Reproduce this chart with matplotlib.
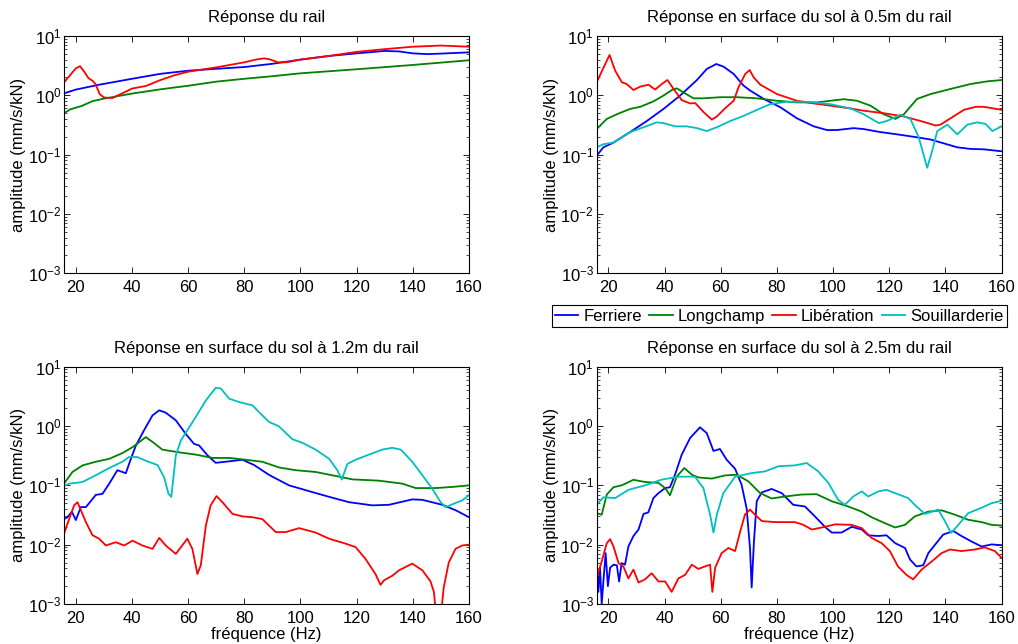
import numpy as np
import matplotlib
matplotlib.use("Agg")
import matplotlib.pyplot as plt
from matplotlib.ticker import LogLocator, NullFormatter

plt.rcParams['font.family'] = ['Liberation Sans', 'DejaVu Sans']
plt.rcParams['font.size'] = 12
plt.rcParams['mathtext.default'] = 'regular'

# ---- Réponse du rail ----
rail_fer_f = [15.8, 20, 28, 40, 50, 60, 70, 80, 90, 100, 110, 120, 130, 135, 140, 145, 150, 160]
rail_fer_a = [1.08, 1.25, 1.5, 1.9, 2.3, 2.6, 2.8, 3.0, 3.4, 4.0, 4.6, 5.1, 5.6, 5.5, 5.1, 4.95, 5.05, 5.3]
rail_lon_f = [15.8, 18, 22, 26, 30, 40, 50, 60, 70, 80, 90, 100, 120, 140, 160]
rail_lon_a = [0.5, 0.58, 0.66, 0.8, 0.88, 1.07, 1.26, 1.45, 1.7, 1.9, 2.1, 2.35, 2.75, 3.25, 3.9]
rail_lib_f = [15.8, 18, 20, 21.5, 23, 24.5, 26, 27, 28.5, 30, 33, 36, 40, 45, 50, 55, 60, 70, 80,
              84, 87, 89, 92, 95, 100, 110, 120, 130, 140, 150, 160]
rail_lib_a = [1.65, 2.2, 2.85, 3.1, 2.5, 1.95, 1.75, 1.55, 1.05, 0.92, 0.9, 1.05, 1.3, 1.44, 1.8, 2.17,
              2.5, 2.96, 3.6, 4.0, 4.2, 4.05, 3.6, 3.6, 4.0, 4.6, 5.4, 6.0, 6.6, 6.9, 6.6]

# ---- sol à 0.5m ----
p05_fer_f = [15.8, 18.2, 21.8, 27.7, 33.7, 39.6, 45.5, 51.5, 55, 58.4, 61, 64.6, 68.1, 70.5, 75.3, 81.2,
             87.1, 93.1, 97.8, 101.4, 107.3, 110.9, 116.9, 122.8, 128.7, 134.7, 139.4, 144.2, 148.9, 153.7, 160]
p05_fer_a = [0.096, 0.133, 0.16, 0.24, 0.37, 0.59, 0.99, 1.81, 2.78, 3.37, 3.04, 2.29, 1.46, 1.2, 0.87, 0.63,
             0.41, 0.30, 0.26, 0.26, 0.28, 0.27, 0.24, 0.22, 0.20, 0.18, 0.155, 0.133, 0.125, 0.123, 0.114]
p05_lon_f = [15.8, 19.4, 23, 27.7, 31.3, 36, 39.6, 42.6, 44.4, 46.7, 50.3, 53.9, 59.8, 65.8, 72.9, 80,
             87.1, 94.3, 99, 103.8, 108.5, 113.3, 118, 122.2, 125.2, 129.9, 134.7, 141.8, 148.9, 154.9, 160]
p05_lon_a = [0.27, 0.40, 0.48, 0.59, 0.64, 0.79, 0.99, 1.23, 1.31, 1.12, 0.89, 0.89, 0.93, 0.93, 0.89, 0.81,
             0.76, 0.76, 0.81, 0.86, 0.81, 0.67, 0.48, 0.40, 0.48, 0.87, 1.05, 1.28, 1.55, 1.72, 1.81]
p05_lib_f = [15.8, 18.2, 20.4, 22.4, 24.8, 26.5, 28.9, 31.3, 34.3, 36.6, 39, 41, 43.2, 46.1, 49.1, 50.9,
             53.9, 56.8, 58.6, 61.6, 64.6, 66.3, 68.7, 70.3, 71.7, 74.1, 80, 87.1, 93.1, 99, 106.2, 110.9,
             118, 125.2, 131.1, 136.5, 138.2, 141.8, 146.6, 150.7, 153.7, 160]
p05_lib_a = [1.66, 2.9, 4.79, 2.6, 1.66, 1.55, 1.23, 1.4, 1.51, 1.25, 1.55, 1.81, 1.28, 0.83, 0.73, 0.74,
             0.52, 0.39, 0.44, 0.61, 0.81, 1.36, 2.29, 2.67, 2.01, 1.51, 1.05, 0.81, 0.73, 0.67, 0.60, 0.55,
             0.50, 0.44, 0.37, 0.31, 0.32, 0.41, 0.57, 0.64, 0.64, 0.57]
p05_sou_f = [15.8, 18.2, 21.8, 27.7, 32.5, 37.2, 39.6, 43.8, 47.9, 51.5, 55, 58.6, 63.4, 68.1, 72.9, 77.6,
             83.6, 90.7, 99, 106.2, 110.9, 116.3, 119.2, 124, 127.5, 130.5, 133.5, 135.3, 137.1, 140.7,
             144.2, 147.8, 151.3, 154.3, 156.7, 160]
p05_sou_a = [0.133, 0.15, 0.16, 0.24, 0.29, 0.35, 0.34, 0.30, 0.30, 0.28, 0.25, 0.29, 0.37, 0.45, 0.57, 0.71,
             0.78, 0.78, 0.71, 0.60, 0.48, 0.34, 0.37, 0.47, 0.40, 0.196, 0.06, 0.117, 0.25, 0.32,
             0.22, 0.32, 0.35, 0.33, 0.25, 0.30]

# ---- sol à 1.2m ----
p12_fer_f = [15.8, 17, 18.6, 20, 21.8, 23.6, 27.1, 29.5, 31.9, 34.8, 36.6, 37.8, 39.6, 41.4, 44.3, 47.3,
             49.7, 52, 55.6, 59.1, 62.1, 63.9, 66.9, 69.8, 73.4, 79.3, 83.5, 88.8, 95.9, 103, 110.2, 117.3,
             125.6, 131.5, 139.8, 143.4, 150.5, 155.3, 160]
p12_fer_a = [0.027, 0.029, 0.036, 0.026, 0.043, 0.043, 0.069, 0.072, 0.107, 0.18, 0.168, 0.16, 0.28, 0.47,
             0.85, 1.51, 1.84, 1.68, 1.25, 0.74, 0.50, 0.47, 0.32, 0.24, 0.25, 0.27, 0.22, 0.15, 0.10, 0.08,
             0.064, 0.052, 0.046, 0.047, 0.058, 0.057, 0.047, 0.038, 0.029]
p12_lon_f = [15.8, 18.8, 22.4, 27.1, 31.9, 36.6, 40.2, 44.9, 47.3, 50.8, 56.8, 62.7, 68.6, 74.6, 80.5,
             86.4, 92.4, 98.3, 105.4, 112.5, 118.5, 127.9, 136.2, 141, 148.1, 154, 160]
p12_lon_a = [0.107, 0.168, 0.217, 0.25, 0.28, 0.35, 0.44, 0.65, 0.54, 0.40, 0.36, 0.33, 0.29, 0.29, 0.27,
             0.25, 0.20, 0.18, 0.168, 0.144, 0.126, 0.12, 0.107, 0.09, 0.09, 0.094, 0.10]
p12_lib_f = [15.8, 17.6, 19.4, 20.6, 21.8, 23.6, 25.9, 28.3, 30.7, 34.2, 37.2, 40.2, 43.7, 47.3, 49.7, 52,
             55.6, 59.7, 61.5, 63.3, 64.5, 66.3, 68, 70.1, 72.2, 75.8, 79.3, 82.9, 86.4, 88.8, 91.2, 94.7,
             99.5, 105.4, 110.2, 116.1, 119.6, 123.1, 126.7, 128.5, 129.7, 132.7, 135.1, 139.8, 143.4,
             146.3, 147.5, 148.1, 149, 150.2, 151, 152.8, 155.2, 157.6, 160]
p12_lib_a = [0.0153, 0.027, 0.046, 0.052, 0.038, 0.024, 0.0145, 0.0126, 0.0097, 0.011, 0.0097, 0.0117,
             0.0097, 0.0085, 0.013, 0.0097, 0.007, 0.0126, 0.0085, 0.0032, 0.0045, 0.021, 0.046, 0.066,
             0.052, 0.033, 0.030, 0.029, 0.027, 0.021, 0.0163, 0.0163, 0.019, 0.016, 0.0126, 0.0104,
             0.0091, 0.0058, 0.0032, 0.0021, 0.0025, 0.003, 0.0037, 0.0048, 0.0037, 0.0024, 0.0016,
             0.0008, 0.0004, 0.0008, 0.0019, 0.005, 0.0085, 0.0097, 0.010]
p12_sou_f = [15.8, 17.6, 20, 22.4, 27.1, 31.9, 36.6, 38.9, 41.9, 44.9, 49.1, 51.4, 53, 54, 55.6, 57.4,
             59.7, 62.7, 66.3, 69.8, 71.6, 74.6, 78.1, 82.9, 85.2, 88.8, 92.3, 97.1, 100.7, 105.4, 110.2,
             113.1, 114.7, 116.7, 119.6, 124.4, 129.1, 132.7, 135.7, 139.8, 143.4, 146.9, 149.9, 151.7,
             154.6, 157.6, 160]
p12_sou_a = [0.097, 0.107, 0.11, 0.114, 0.148, 0.196, 0.25, 0.30, 0.30, 0.26, 0.22, 0.138, 0.072, 0.064,
             0.32, 0.57, 0.85, 1.42, 2.7, 4.4, 4.3, 2.89, 2.54, 2.23, 1.72, 1.17, 0.99, 0.60, 0.52, 0.40,
             0.28, 0.18, 0.125, 0.23, 0.27, 0.33, 0.40, 0.43, 0.40, 0.25, 0.148, 0.088, 0.052, 0.043,
             0.049, 0.056, 0.068]

# ---- sol à 2.5m ----
p25_fer_f = [15.8, 16.4, 17, 17.6, 18.2, 19, 19.8, 20.6, 21.8, 23, 23.8, 24.7, 25.9, 27.1, 28.9, 30.7,
             32.5, 34.2, 36, 37.8, 40.2, 41.9, 43.7, 46.1, 49.1, 52.6, 55, 57.4, 59.7, 62.1, 65.1, 67.4,
             69.2, 70.4, 71, 71.8, 72.8, 74.6, 78.1, 81.7, 85.8, 90, 93.5, 97.1, 99.5, 103, 106.6, 110.2,
             112.5, 116.1, 119, 122.1, 125.6, 127.4, 129.7, 132.1, 133.9, 136.3, 139.2, 142.8, 145.7,
             149.3, 152.9, 156.4, 160]
p25_fer_a = [0.0046, 0.0016, 0.0041, 0.001, 0.0024, 0.0072, 0.002, 0.0041, 0.0046, 0.0045, 0.0024,
             0.0049, 0.0046, 0.0093, 0.014, 0.018, 0.033, 0.035, 0.061, 0.074, 0.09, 0.093, 0.151, 0.33,
             0.63, 0.95, 0.76, 0.38, 0.41, 0.27, 0.19, 0.103, 0.041, 0.0088, 0.0019, 0.011, 0.054, 0.076,
             0.087, 0.074, 0.047, 0.044, 0.030, 0.020, 0.016, 0.016, 0.020, 0.018, 0.0144, 0.014, 0.0144,
             0.0106, 0.0088, 0.0056, 0.0043, 0.0045, 0.0072, 0.010, 0.0148, 0.017, 0.014, 0.0113,
             0.0093, 0.0101, 0.0098]
p25_lon_f = [15.8, 17.6, 19.4, 21.8, 24.7, 28.9, 33, 37.8, 40.2, 41.9, 44.3, 47, 49.7, 52, 56.8, 61.5,
             65.7, 69.8, 74, 78.1, 82.9, 88.8, 94.1, 99.5, 105.4, 110.2, 113.7, 118.5, 122.1, 125.6,
             129.1, 133.9, 138.6, 143.4, 148.1, 152.9, 156.4, 160]
p25_lon_a = [0.034, 0.032, 0.07, 0.093, 0.10, 0.124, 0.114, 0.11, 0.09, 0.068, 0.14, 0.196, 0.151, 0.136,
             0.13, 0.147, 0.151, 0.117, 0.074, 0.06, 0.065, 0.07, 0.071, 0.054, 0.044, 0.036, 0.029,
             0.023, 0.0195, 0.0216, 0.030, 0.036, 0.038, 0.032, 0.0263, 0.024, 0.0216, 0.021]
p25_lib_f = [15.8, 17.6, 19.4, 20.6, 21.8, 23.6, 25.3, 27.1, 28.9, 30.7, 33, 35.4, 37.8, 40.2, 42.5, 44.9,
             47.3, 49.7, 52, 54.4, 56.2, 57, 58, 60.3, 62.7, 65.1, 66.9, 68.6, 70.4, 72.2, 74.6, 79.3,
             86.4, 89.4, 92.4, 97.1, 100.7, 106.6, 110.2, 113.7, 117.3, 120.2, 123.1, 126.1, 128.5,
             131.5, 135.1, 138.6, 141.6, 145.7, 150.5, 154, 157.6, 160]
p25_lib_a = [0.0027, 0.0052, 0.0106, 0.0124, 0.0093, 0.0049, 0.0043, 0.0027, 0.0038, 0.0023, 0.0026,
             0.0033, 0.0024, 0.0024, 0.0016, 0.0027, 0.0031, 0.0046, 0.0039, 0.0043, 0.0046, 0.0016,
             0.0041, 0.0072, 0.0088, 0.0078, 0.0166, 0.032, 0.039, 0.032, 0.025, 0.024, 0.024, 0.0216,
             0.018, 0.020, 0.022, 0.0216, 0.019, 0.013, 0.0106, 0.0078, 0.0043, 0.0031, 0.0026, 0.0038,
             0.0052, 0.0072, 0.0083, 0.0078, 0.0083, 0.009, 0.0078, 0.006]
p25_sou_f = [15.8, 18.2, 22.4, 27.1, 33, 39, 44.9, 50.8, 53.8, 56.2, 57.4, 58.6, 60.9, 65.1, 71, 75.8,
             80.5, 86.4, 90.6, 94.7, 98.3, 101.8, 104.2, 107.2, 110.2, 112.5, 116.1, 119, 123.1, 126.7,
             129.7, 132.7, 137.4, 139.8, 142, 144, 148.1, 152.9, 156.4, 160]
p25_sou_a = [0.047, 0.063, 0.061, 0.084, 0.10, 0.125, 0.14, 0.14, 0.09, 0.032, 0.016, 0.032, 0.074, 0.14,
             0.161, 0.172, 0.21, 0.217, 0.238, 0.172, 0.11, 0.057, 0.047, 0.065, 0.079, 0.065, 0.079,
             0.084, 0.071, 0.061, 0.044, 0.033, 0.039, 0.025, 0.0158, 0.020, 0.034, 0.042, 0.05, 0.055]

names = ["Ferriere", "Longchamp", "Libération", "Souillarderie"]
colors = ["#0000ff", "#008000", "#ff0000", "#00bfbf"]

panels = [
    ("Réponse du rail", [(rail_fer_f, rail_fer_a), (rail_lon_f, rail_lon_a), (rail_lib_f, rail_lib_a), None]),
    ("Réponse en surface du sol à 0.5m du rail",
     [(p05_fer_f, p05_fer_a), (p05_lon_f, p05_lon_a), (p05_lib_f, p05_lib_a), (p05_sou_f, p05_sou_a)]),
    ("Réponse en surface du sol à 1.2m du rail",
     [(p12_fer_f, p12_fer_a), (p12_lon_f, p12_lon_a), (p12_lib_f, p12_lib_a), (p12_sou_f, p12_sou_a)]),
    ("Réponse en surface du sol à 2.5m du rail",
     [(p25_fer_f, p25_fer_a), (p25_lon_f, p25_lon_a), (p25_lib_f, p25_lib_a), (p25_sou_f, p25_sou_a)]),
]
pos = [[0.0629, 0.5756, 0.3978, 0.3685], [0.5861, 0.5756, 0.3978, 0.3685],
       [0.0629, 0.0621, 0.3978, 0.3685], [0.5861, 0.0621, 0.3978, 0.3685]]

fig = plt.figure(figsize=(10.18, 6.44), dpi=100)
handles = []
for i, (title, series) in enumerate(panels):
    ax = fig.add_axes(pos[i])
    for j, s in enumerate(series):
        if s is None:
            continue
        ln, = ax.plot(s[0], s[1], color=colors[j], lw=1.3, label=names[j])
        if i == 2:
            handles.append(ln)
    ax.set_yscale("log")
    ax.set_ylim(1e-3, 10)
    ax.set_xlim(15.8, 160)
    ax.set_xticks(np.arange(20, 161, 20))
    ax.yaxis.set_major_locator(LogLocator(base=10, numticks=10))
    ax.yaxis.set_minor_locator(LogLocator(base=10, subs=np.arange(2, 10), numticks=20))
    ax.yaxis.set_minor_formatter(NullFormatter())
    ax.tick_params(which="both", direction="in", top=True, right=True, labelsize=12)
    ax.tick_params(which="major", length=4, width=0.6)
    ax.tick_params(which="minor", length=2, width=0.5)
    ax.tick_params(axis="x", pad=5)
    ax.tick_params(axis="y", pad=2)
    for sp in ax.spines.values():
        sp.set_linewidth(0.8)
    ax.set_title(title, fontsize=12, pad=10)
    ax.set_ylabel("amplitude (mm/s/kN)", fontsize=12)
    ax.yaxis.set_label_coords(-0.093, 0.5)
    if i >= 2:
        ax.set_xlabel("fréquence (Hz)", fontsize=12, labelpad=1)

leg = fig.legend(handles, names, loc="center", bbox_to_anchor=(0.7654, 0.5093), ncol=4,
                 fancybox=False, edgecolor="k", framealpha=1, fontsize=12,
                 handlelength=1.4, handletextpad=0.3, columnspacing=0.45,
                 borderpad=0.2, borderaxespad=0)
leg.get_frame().set_linewidth(0.8)

fig.savefig("out.png", dpi=100)
